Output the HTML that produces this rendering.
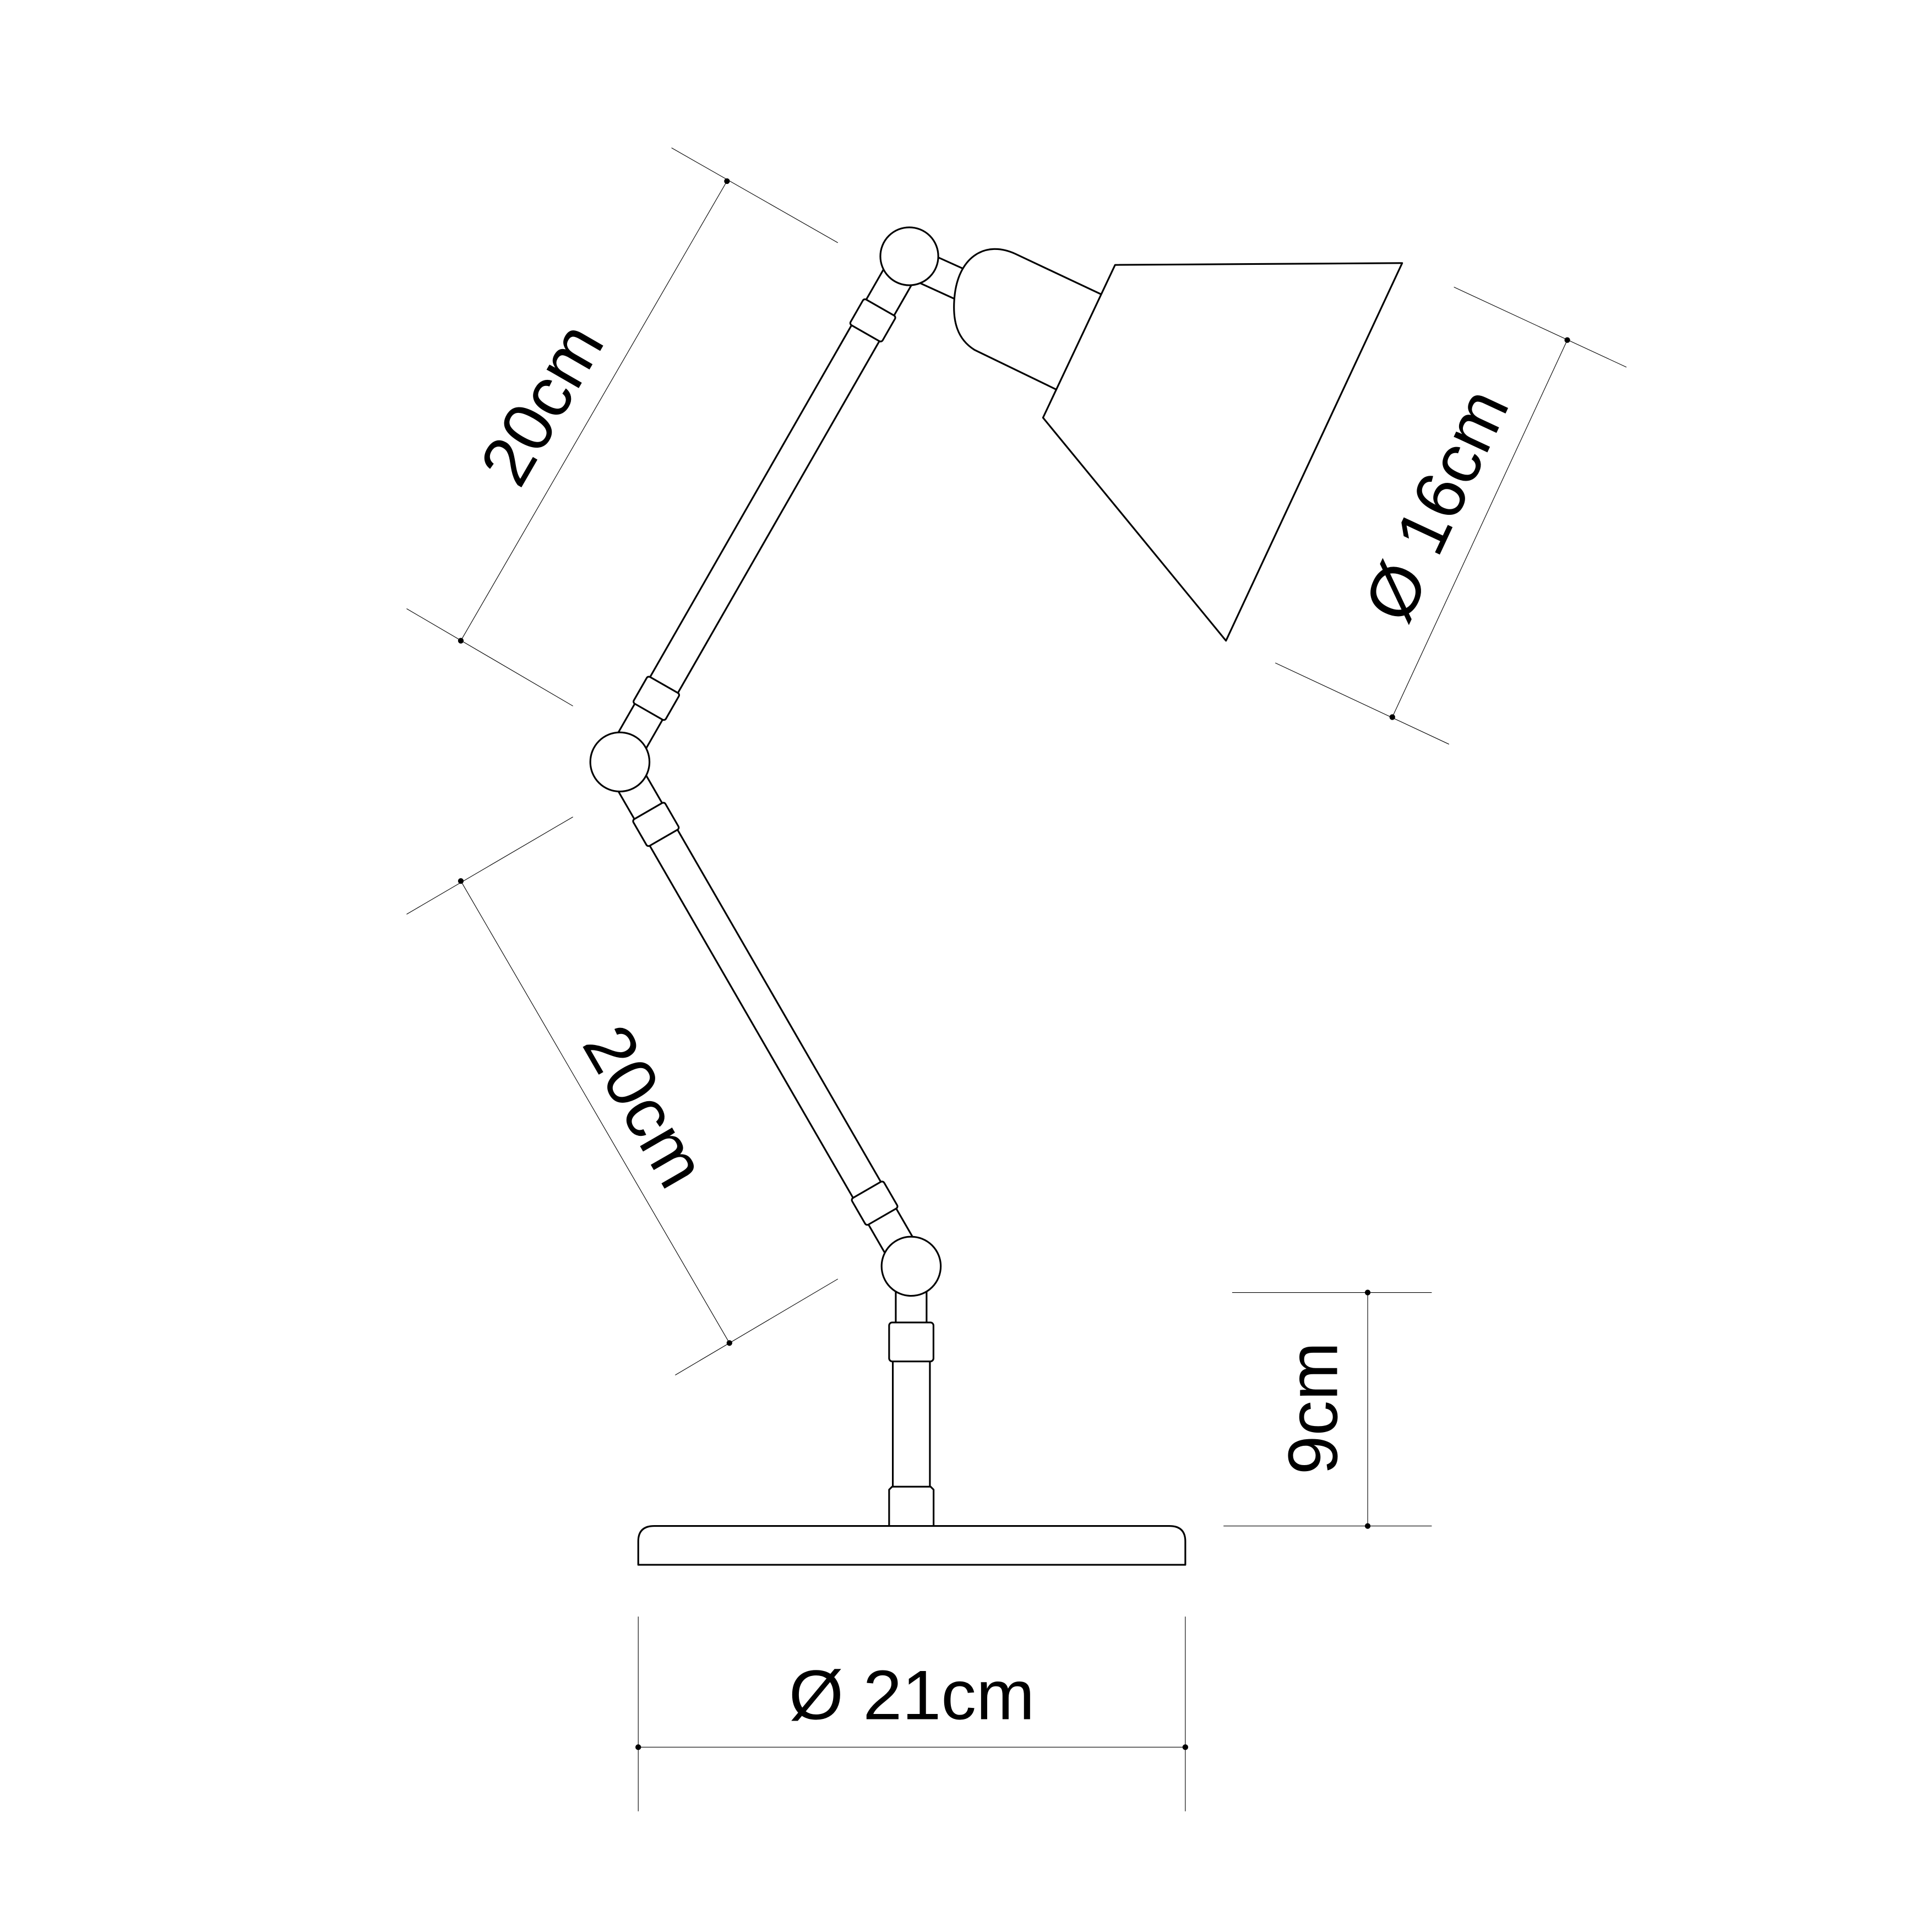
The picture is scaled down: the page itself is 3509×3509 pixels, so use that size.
<!DOCTYPE html>
<html><head><meta charset="utf-8"><style>html,body{margin:0;padding:0;background:#fff}svg{display:block}</style></head>
<body>
<svg width="3509" height="3509" viewBox="0 0 1568 1568" xmlns="http://www.w3.org/2000/svg">
<rect width="1568" height="1568" fill="#fff"/>
<g stroke="#000" stroke-width="0.5" fill="none">
  <line x1="518" y1="1312" x2="518" y2="1470"/>
  <line x1="962" y1="1312" x2="962" y2="1470"/>
  <line x1="518" y1="1418" x2="962" y2="1418"/>
  <line x1="1000" y1="1049" x2="1162" y2="1049"/>
  <line x1="993" y1="1238.5" x2="1162" y2="1238.5"/>
  <line x1="1110" y1="1049" x2="1110" y2="1238.5"/>
  <line x1="590" y1="147" x2="374" y2="520"/>
  <line x1="545" y1="120" x2="680" y2="197"/>
  <line x1="330" y1="494" x2="465" y2="573"/>
  <line x1="374" y1="715" x2="592" y2="1090"/>
  <line x1="330" y1="742" x2="465" y2="663"/>
  <line x1="548" y1="1116" x2="680" y2="1038"/>
  <line x1="1272" y1="276" x2="1130" y2="582"/>
  <line x1="1180" y1="233" x2="1320" y2="298"/>
  <line x1="1035" y1="538" x2="1176" y2="604"/>
</g>
<g fill="#000">
  <circle cx="518" cy="1418" r="2.3"/><circle cx="962" cy="1418" r="2.3"/>
  <circle cx="1110" cy="1049" r="2.3"/><circle cx="1110" cy="1238.5" r="2.3"/>
  <circle cx="590" cy="147" r="2.3"/><circle cx="374" cy="520" r="2.3"/>
  <circle cx="374" cy="715" r="2.3"/><circle cx="592" cy="1090" r="2.3"/>
  <circle cx="1272" cy="276" r="2.3"/><circle cx="1130" cy="582" r="2.3"/>
</g>
<g font-family="Liberation Sans, Arial, sans-serif" font-size="57" fill="#000" text-anchor="middle" dominant-baseline="central">
  <text x="740" y="1376">Ø 21cm</text>
  <text transform="translate(1066,1143) rotate(-90)">9cm</text>
  <text transform="translate(440,328) rotate(-60)">20cm</text>
  <text transform="translate(523,898) rotate(60)">20cm</text>
  <text transform="translate(1166,410) rotate(-65)">Ø 16cm</text>
</g>
<g stroke="#000" stroke-width="1.4" fill="#fff" stroke-linejoin="round">
  <g transform="translate(503.1,618.4) rotate(-60.2)">
    <line x1="0" y1="-13" x2="472" y2="-13"/>
    <line x1="0" y1="13" x2="472" y2="13"/>
    <rect x="47" y="-15" width="25" height="30" rx="2"/>
    <rect x="401" y="-15" width="24" height="30" rx="2"/>
  </g>
  <g transform="translate(503.1,618.4) rotate(60)">
    <line x1="0" y1="-13" x2="472.7" y2="-13"/>
    <line x1="0" y1="13" x2="472.7" y2="13"/>
    <rect x="46" y="-15" width="25" height="30" rx="2"/>
    <rect x="401" y="-15" width="25" height="30" rx="2"/>
  </g>
  <line x1="755" y1="206" x2="786" y2="220"/>
  <line x1="745" y1="229" x2="775.2" y2="242.8"/>
  <path d="M894,239 L824,206 C800,195 779,208 775,238 C772,262 778,276 791,284 L857,316"/>
  <polygon points="905,215 1138,213.5 995,520 846.5,339"/>
  <circle cx="738" cy="208" r="23.5"/>
  <circle cx="503.1" cy="618.4" r="24"/>
  <line x1="727" y1="1030" x2="727" y2="1073"/>
  <line x1="752" y1="1030" x2="752" y2="1073"/>
  <rect x="721.6" y="1073.3" width="36" height="31.6" rx="2.5"/>
  <line x1="724.6" y1="1105" x2="724.6" y2="1207"/>
  <line x1="754.7" y1="1105" x2="754.7" y2="1207"/>
  <path d="M721.6,1238.5 L721.6,1209 L724,1206.6 L755.3,1206.6 L757.7,1209 L757.7,1238.5"/>
  <circle cx="739.5" cy="1027.7" r="24"/>
  <path d="M518,1270 L518,1251 Q518,1238.5 531,1238.5 L949,1238.5 Q962,1238.5 962,1251 L962,1270 Z"/>
</g>
</svg>
</body></html>
